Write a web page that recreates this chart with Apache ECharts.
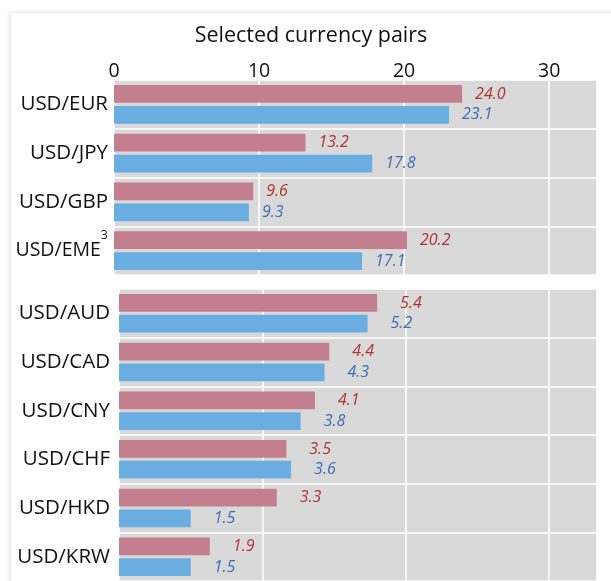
<!DOCTYPE html>
<html>
<head>
<meta charset="utf-8">
<script src="https://cdn.jsdelivr.net/npm/echarts@6/dist/echarts.min.js"></script>
<style>
    html, body { margin: 0; padding: 0; background: #fff; }
    .card {
        position: absolute; left: 11px; top: 12px; width: 620px; height: 600px;
        background: #fff; border-top: 1px solid #ececec;
        box-shadow: -2px 0 4px rgba(0, 0, 0, 0.10);
    }
    #chart { position: absolute; left: 0; top: 0; width: 611px; height: 581px; }
</style>
</head>
<body>
<div class="card"></div>
<div id="chart"></div>
<script>
// top panel: major pairs
var topPairs = ['USD/EUR', 'USD/JPY', 'USD/GBP', 'USD/EME'];
var topRed = [24.0, 13.2, 9.6, 20.2];
var topBlue = [23.1, 17.8, 9.3, 17.1];

// bottom panel: other pairs
var bottomPairs = ['USD/AUD', 'USD/CAD', 'USD/CNY', 'USD/CHF', 'USD/HKD', 'USD/KRW'];
var bottomRed = [5.4, 4.4, 4.1, 3.5, 3.3, 1.9];
var bottomBlue = [5.2, 4.3, 3.8, 3.6, 1.5, 1.5];

var topTicks = [0, 10, 20, 30];

var FONT = '"Open Sans", "Noto Sans", sans-serif';
var RED = '#C47F8E', BLUE = '#6AADE0';
var RED_TXT = '#B3312E', BLUE_TXT = '#3B6DB5';
var GRAY = '#D9D9D9';
var INK = '#111';

var chart = echarts.init(document.getElementById('chart'));

function valueLabel(color, dist) {
    return {
        show: true,
        position: 'right',
        distance: dist,
        color: color,
        fontFamily: FONT,
        fontStyle: 'italic',
        fontSize: 16,
        formatter: function (p) { return p.value.toFixed(1); }
    };
}

function catAxis(gridIndex, data, margin) {
    return {
        type: 'category',
        gridIndex: gridIndex,
        data: data,
        inverse: true,
        axisLine: { show: false },
        axisTick: { show: false },
        splitLine: { show: true, lineStyle: { color: '#fff', width: 1.5 } },
        axisLabel: {
            margin: margin,
            color: INK,
            fontFamily: FONT,
            fontSize: 20.5,
            formatter: function (v) {
                // EME carries a footnote mark
                if (v === 'USD/EME') return '{a|' + v + '}{s|3}';
                return v;
            },
            rich: {
                a: { fontFamily: FONT, fontSize: 19.5, color: INK },
                s: { fontFamily: FONT, fontSize: 12.5, color: INK, padding: [0, 0, 31, 0] }
            }
        }
    };
}

var option = {
    animation: false,
    backgroundColor: 'transparent',
    title: {
        text: 'Selected currency pairs',
        left: 306,
        textAlign: 'center',
        top: 20,
        textStyle: { fontFamily: FONT, fontSize: 21.5, fontWeight: 'normal', color: INK }
    },
    grid: [
        { left: 114, top: 80, width: 483, height: 195, show: true, backgroundColor: GRAY, borderWidth: 0 },
        { left: 119, top: 289, width: 478, height: 294, show: true, backgroundColor: GRAY, borderWidth: 0 }
    ],
    xAxis: [
        {
            type: 'value',
            gridIndex: 0,
            position: 'top',
            min: 0,
            max: 33.3,
            interval: 10,
            axisLine: { show: false },
            axisTick: { show: false },
            splitLine: { show: true, lineStyle: { color: '#fff', width: 1.5 } },
            axisLabel: {
                margin: -1,
                color: INK,
                fontFamily: FONT,
                fontSize: 19.5,
                showMaxLabel: false,
                formatter: function (v) { return topTicks.indexOf(v) >= 0 ? String(v) : ''; }
            }
        },
        {
            type: 'value',
            gridIndex: 1,
            min: 0,
            max: 10,
            interval: 3,
            axisLine: { show: false },
            axisTick: { show: false },
            axisLabel: { show: false },
            splitLine: { show: true, lineStyle: { color: '#fff', width: 1.5 } }
        }
    ],
    yAxis: [catAxis(0, topPairs, 6), catAxis(1, bottomPairs, 9)],
    series: [
        {
            type: 'bar', xAxisIndex: 0, yAxisIndex: 0, data: topRed,
            barGap: '17%', barCategoryGap: '21%',
            itemStyle: { color: RED },
            label: valueLabel(RED_TXT, 13)
        },
        {
            type: 'bar', xAxisIndex: 0, yAxisIndex: 0, data: topBlue,
            barGap: '17%', barCategoryGap: '21%',
            itemStyle: { color: BLUE },
            label: valueLabel(BLUE_TXT, 13)
        },
        {
            type: 'bar', xAxisIndex: 1, yAxisIndex: 1, data: bottomRed,
            barGap: '17%', barCategoryGap: '21%',
            itemStyle: { color: RED },
            label: valueLabel(RED_TXT, 23)
        },
        {
            type: 'bar', xAxisIndex: 1, yAxisIndex: 1, data: bottomBlue,
            barGap: '17%', barCategoryGap: '21%',
            itemStyle: { color: BLUE },
            label: valueLabel(BLUE_TXT, 23)
        }
    ]
};

chart.setOption(option);
</script>
</body>
</html>
